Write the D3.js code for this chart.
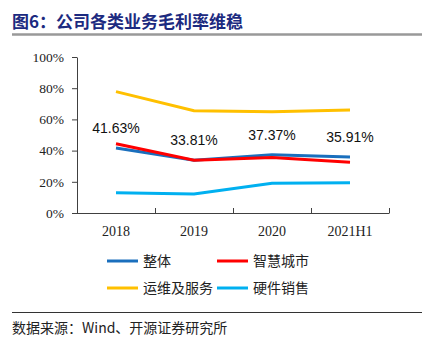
<!DOCTYPE html>
<html>
<head>
<meta charset="utf-8">
<script src="https://cdn.jsdelivr.net/npm/d3@7"></script>
<style>
  body { margin: 0; background: #fff; }
  svg { display: block; }
</style>
</head>
<body>
<script>
const W = 427, H = 342;

const years = ['2018', '2019', '2020', '2021H1'];
const overall = [41.63, 33.81, 37.37, 35.91];      // 整体
const smartCity = [44.4, 33.8, 35.5, 32.5];        // 智慧城市
const opsService = [77.8, 65.6, 64.9, 66.0];       // 运维及服务
const hardware = [13.0, 12.2, 19.0, 19.4];         // 硬件销售
const yTicks = [0, 20, 40, 60, 80, 100];

const series = [
  { name: '整体', values: overall, color: '#1a6fbd' },
  { name: '智慧城市', values: smartCity, color: '#ff0000' },
  { name: '运维及服务', values: opsService, color: '#ffc000' },
  { name: '硬件销售', values: hardware, color: '#00b0f0' }
];
// draw order: overall sits beneath the red line
const drawOrder = [2, 3, 0, 1];

const svg = d3.select('body').append('svg').attr('width', W).attr('height', H);

// header
svg.append('text')
  .attr('x', 12).attr('y', 28)
  .attr('font-family', '"Noto Sans CJK SC", sans-serif')
  .attr('font-weight', 'bold')
  .attr('font-size', 17)
  .attr('fill', '#1c2a80')
  .text('图6：公司各类业务毛利率维稳');
svg.append('line')
  .attr('x1', 12).attr('x2', 422).attr('y1', 34.5).attr('y2', 34.5)
  .attr('stroke', '#999').attr('stroke-width', 2.5);

const x = d3.scaleBand().domain(years).range([77, 389]);
const y = d3.scaleLinear().domain([0, 100]).range([213, 57]);

const axisColor = '#404040';

// y axis
const yAxis = svg.append('g')
  .attr('transform', 'translate(77,0)')
  .call(d3.axisLeft(y).tickValues(yTicks).tickSize(5).tickSizeOuter(0).tickPadding(8)
    .tickFormat(d => d + '%'));
yAxis.select('.domain').attr('stroke', axisColor);
yAxis.selectAll('.tick line').attr('stroke', axisColor);
yAxis.selectAll('.tick text')
  .attr('font-family', '"Liberation Serif", serif')
  .attr('font-size', 13.5)
  .attr('fill', '#222');

// x axis with inward ticks at band boundaries
const xAxis = svg.append('g').attr('transform', 'translate(0,213)');
xAxis.append('line')
  .attr('x1', 77).attr('x2', 389).attr('y1', 0.5).attr('y2', 0.5)
  .attr('stroke', axisColor);
xAxis.selectAll('.bound')
  .data(years.slice(1).concat(['end']))
  .enter().append('line')
  .attr('x1', (d, i) => Math.round(x(years[0]) + x.bandwidth() * (i + 1)) + 0.5)
  .attr('x2', (d, i) => Math.round(x(years[0]) + x.bandwidth() * (i + 1)) + 0.5)
  .attr('y1', -5).attr('y2', 0.5)
  .attr('stroke', axisColor);
xAxis.selectAll('.lbl')
  .data(years)
  .enter().append('text')
  .attr('x', d => x(d) + x.bandwidth() / 2)
  .attr('y', 23)
  .attr('text-anchor', 'middle')
  .attr('font-family', '"Liberation Serif", serif')
  .attr('font-size', 14)
  .attr('fill', '#222')
  .text(d => d);

// lines
const line = d3.line()
  .x((d, i) => x(years[i]) + x.bandwidth() / 2)
  .y(d => y(d));

svg.selectAll('.series')
  .data(drawOrder.map(i => series[i]))
  .enter().append('path')
  .attr('d', d => line(d.values))
  .attr('fill', 'none')
  .attr('stroke', d => d.color)
  .attr('stroke-width', 3);

// overall margin labels
svg.selectAll('.val')
  .data(overall)
  .enter().append('text')
  .attr('x', (d, i) => x(years[i]) + x.bandwidth() / 2)
  .attr('y', d => y(d) - 15)
  .attr('text-anchor', 'middle')
  .attr('font-family', '"Liberation Sans", Arial, sans-serif')
  .attr('font-size', 14)
  .attr('fill', '#111')
  .text(d => d.toFixed(2) + '%');

// legend
const legendPos = [[107, 261], [217, 261], [107, 288], [217, 288]];
const legend = svg.selectAll('.legend')
  .data(series)
  .enter().append('g')
  .attr('transform', (d, i) => `translate(${legendPos[i][0]},${legendPos[i][1]})`);
legend.append('line')
  .attr('x1', 0).attr('x2', 31).attr('y1', 0).attr('y2', 0)
  .attr('stroke', d => d.color).attr('stroke-width', 3);
legend.append('text')
  .attr('x', 36).attr('y', 5)
  .attr('font-family', '"Noto Sans CJK SC", sans-serif')
  .attr('font-size', 14)
  .attr('fill', '#222')
  .text(d => d.name);

// source note
svg.append('line')
  .attr('x1', 12).attr('x2', 422).attr('y1', 312.5).attr('y2', 312.5)
  .attr('stroke', '#333').attr('stroke-width', 1);
svg.append('text')
  .attr('x', 12).attr('y', 333)
  .attr('font-family', '"Noto Sans CJK SC", "Liberation Serif", serif')
  .attr('font-size', 14)
  .attr('fill', '#222')
  .text('数据来源：Wind、开源证券研究所');
</script>
</body>
</html>
